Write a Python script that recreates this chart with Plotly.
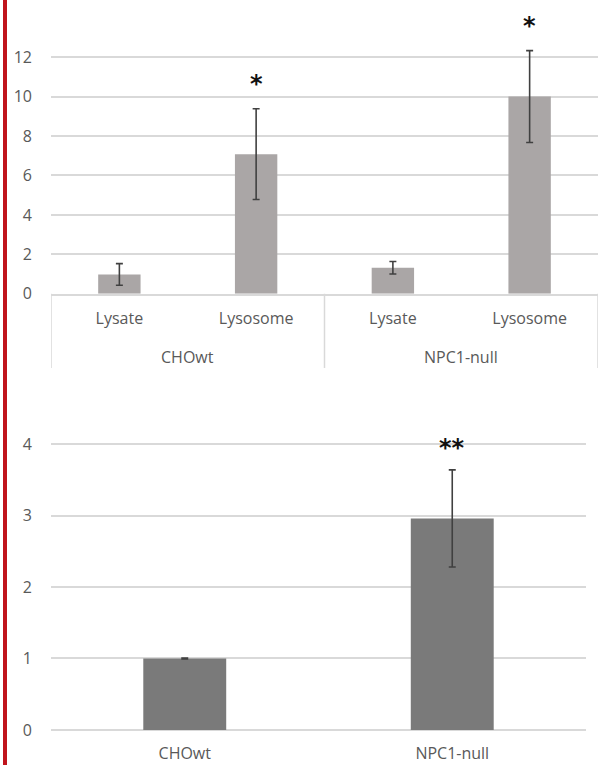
import plotly.graph_objects as go

# ---- data ----
top_groups = ["CHOwt", "CHOwt", "NPC1-null", "NPC1-null"]
top_fractions = ["Lysate", "Lysosome", "Lysate", "Lysosome"]
top_values = [0.98, 7.08, 1.32, 10.0]
top_errors = [0.55, 2.3, 0.32, 2.33]
top_marks = ["", "*", "", "*"]

bottom_categories = ["CHOwt", "NPC1-null"]
bottom_values = [1.0, 2.96]
bottom_errors = [0.005, 0.68]
bottom_marks = ["", "**"]

top_ticks = [0, 2, 4, 6, 8, 10, 12]
bottom_ticks = [0, 1, 2, 3, 4]

W, H = 599, 765          # reference pixel frame
FIG_H = 778              # page height (screenshot appears to squeeze vertically)
FONT = "Open Sans"
TICK_COLOR = "#595959"
GRID = "#d9d9d9"

top_idx = list(range(len(top_fractions)))
bot_idx = list(range(len(bottom_categories)))

fig = go.Figure()

fig.add_trace(go.Bar(
    x=top_idx, y=top_values,
    marker=dict(color="#aaa6a6", line=dict(width=0)),
    error_y=dict(type="data", array=top_errors, visible=True,
                 color="#404040", thickness=1.6, width=3.5),
    xaxis="x", yaxis="y", width=0.31,
))

fig.add_trace(go.Bar(
    x=bot_idx, y=bottom_values,
    marker=dict(color="#7a7a7a", line=dict(width=0)),
    error_y=dict(type="data", array=bottom_errors, visible=True,
                 color="#404040", thickness=1.6, width=3.5),
    xaxis="x2", yaxis="y2", width=0.31,
))

def py(p):
    return 1 - p / H

def px(p):
    return p / W

STAR_FONT = dict(family="DejaVu Sans", size=24, color="#111111")

annotations = []
for i, v, e, m in zip(top_idx, top_values, top_errors, top_marks):
    if m:
        annotations.append(dict(x=i, xref="x", yref="y", y=v + e + 1.25,
                                text="<b>" + m + "</b>", showarrow=False, yanchor="middle",
                                font=STAR_FONT))
for i, v, e, m in zip(bot_idx, bottom_values, bottom_errors, bottom_marks):
    if m:
        annotations.append(dict(x=i, xref="x2", yref="y2", y=v + e + 0.31,
                                text="<b>" + m + "</b>", showarrow=False, yanchor="middle",
                                font=STAR_FONT))

# group labels below the inner category labels
groups_seen = []
for g in top_groups:
    if g not in groups_seen:
        groups_seen.append(g)
shapes = []
for g in groups_seen:
    members = [i for i in top_idx if top_groups[i] == g]
    annotations.append(dict(x=sum(members) / len(members), xref="x", yref="paper",
                            y=py(356), yanchor="middle", showarrow=False, text=g,
                            font=dict(family=FONT, size=16, color=TICK_COLOR)))
# dividers between groups (and at edges)
bounds = [-0.5]
for i in top_idx[1:]:
    if top_groups[i] != top_groups[i - 1]:
        bounds.append(i - 0.5)
bounds.append(len(top_idx) - 0.5)
for b in bounds:
    shapes.append(dict(type="line", xref="x", yref="paper", x0=b, x1=b,
                       y0=py(293), y1=py(367), line=dict(color=GRID, width=1.5)))

shapes.append(dict(type="rect", xref="paper", yref="paper",
                   x0=px(3), x1=px(7), y0=0, y1=1,
                   fillcolor="#c0141c", line=dict(width=0), layer="above"))

top_zero, top_unit = 293, 236 / 12
top_max = 13.8
bot_zero, bot_unit = 728, 285 / 4
bot_max = 4.3

fig.update_layout(
    width=W, height=FIG_H,
    margin=dict(l=0, r=0, t=0, b=0),
    paper_bgcolor="white", plot_bgcolor="white",
    showlegend=False, bargap=0.69,
    font=dict(family=FONT, size=16, color=TICK_COLOR),
    xaxis=dict(domain=[px(51), px(598)], anchor="y", range=[-0.5, 3.5],
               tickvals=top_idx, ticktext=top_fractions,
               showline=True, linecolor=GRID, linewidth=1.5,
               showgrid=False, zeroline=False, ticks="", ticklabelstandoff=9,
               tickfont=dict(family=FONT, size=16, color=TICK_COLOR)),
    yaxis=dict(domain=[py(top_zero), py(top_zero - top_max * top_unit)], anchor="x",
               range=[0, top_max], tickvals=top_ticks, showgrid=True, gridcolor=GRID,
               gridwidth=1.5, zeroline=False, showline=False, ticks="",
               ticklabelstandoff=18,
               tickfont=dict(family=FONT, size=16, color=TICK_COLOR)),
    xaxis2=dict(domain=[px(51), px(586)], anchor="y2", range=[-0.5, 1.5],
                tickvals=bot_idx, ticktext=bottom_categories, showline=False,
                showgrid=False, zeroline=False, ticks="", ticklabelstandoff=12,
                tickfont=dict(family=FONT, size=16, color=TICK_COLOR)),
    yaxis2=dict(domain=[py(bot_zero), py(bot_zero - bot_max * bot_unit)], anchor="x2",
                range=[0, bot_max], tickvals=bottom_ticks, showgrid=True, gridcolor=GRID,
                gridwidth=1.5, zeroline=True, zerolinecolor=GRID, zerolinewidth=1.5,
                showline=False, ticks="", ticklabelstandoff=18,
                tickfont=dict(family=FONT, size=16, color=TICK_COLOR)),
    annotations=annotations,
    shapes=shapes,
)

fig.write_html(
    "out.html",
    config={"displayModeBar": False},
    post_script=(
        "document.documentElement.style.margin='0';"
        "document.documentElement.style.padding='0';"
        "document.documentElement.style.overflow='hidden';"
        "document.body.style.margin='0';"
        "document.body.style.padding='0';"
        "document.body.style.overflow='hidden';"
    ),
)
